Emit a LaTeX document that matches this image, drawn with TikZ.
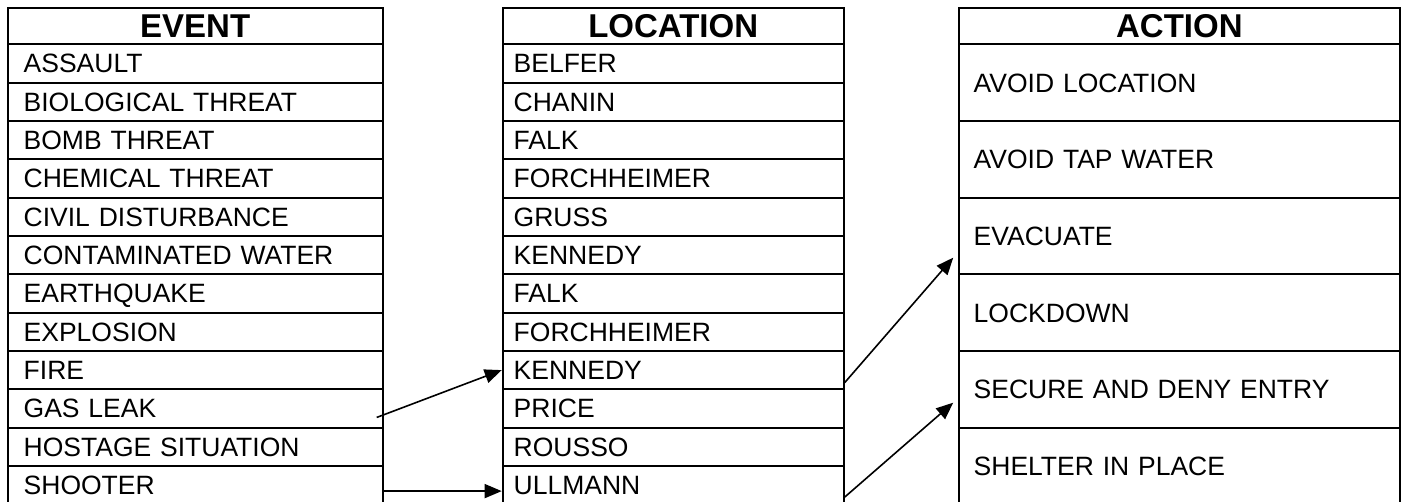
\documentclass[tikz,border=0pt]{standalone}
\usepackage{fontspec}
\setmainfont{Liberation Sans}
\usetikzlibrary{arrows.meta}
\tikzstyle{headCell}=[shape = rectangle, draw, line width = 2pt, anchor = north west, minimum height = 36.6pt, inner sep = 0pt, text height = 23.6pt, text depth = 0pt, font = \fontsize{33}{38}\selectfont\bfseries]
\tikzstyle{eventCell}=[shape = rectangle, draw, line width = 2pt, anchor = north west, text width = 343pt, minimum height = 38.33pt, inner xsep = 16pt, inner ysep = 0pt, text height = 19pt, text depth = 0pt, align = left, font = \fontsize{26.5}{31}\selectfont]
\tikzstyle{placeCell}=[eventCell, text width = 319pt, inner xsep = 11pt]
\tikzstyle{actionCell}=[eventCell, text width = 411.3pt, inner xsep = 15pt, minimum height = 76.67pt]
\tikzstyle{linkArrow}=[line width = 1.6pt, -{Triangle[length = 17pt, width = 14pt]}]

\begin{document}
\begin{tikzpicture}[x = 1pt, y = -1pt]
\useasboundingbox (0,0) rectangle (1404,501);
% column heads
\node[headCell, minimum width = 375pt] (eventHead) at (6.7, 6.7) {EVENT};
\node[headCell, minimum width = 341pt] (placeHead) at (501.7, 6.7) {LOCATION};
\node[headCell, minimum width = 441.3pt] (actionHead) at (957.7, 6.7) {ACTION};
% events
\node[eventCell] (ev1) at (6.7, 43.3) {ASSAULT};
\node[eventCell] (ev2) at (6.7, 81.63) {BIOLOGICAL THREAT};
\node[eventCell] (ev3) at (6.7, 119.96) {BOMB THREAT};
\node[eventCell] (ev4) at (6.7, 158.29) {CHEMICAL THREAT};
\node[eventCell] (ev5) at (6.7, 196.62) {CIVIL DISTURBANCE};
\node[eventCell] (ev6) at (6.7, 234.95) {CONTAMINATED WATER};
\node[eventCell] (ev7) at (6.7, 273.28) {EARTHQUAKE};
\node[eventCell] (ev8) at (6.7, 311.61) {EXPLOSION};
\node[eventCell] (ev9) at (6.7, 349.94) {FIRE};
\node[eventCell] (ev10) at (6.7, 388.27) {GAS LEAK};
\node[eventCell] (ev11) at (6.7, 426.6) {HOSTAGE SITUATION};
\node[eventCell] (ev12) at (6.7, 464.93) {SHOOTER};
% locations
\node[placeCell] (loc1) at (501.7, 43.3) {BELFER};
\node[placeCell] (loc2) at (501.7, 81.63) {CHANIN};
\node[placeCell] (loc3) at (501.7, 119.96) {FALK};
\node[placeCell] (loc4) at (501.7, 158.29) {FORCHHEIMER};
\node[placeCell] (loc5) at (501.7, 196.62) {GRUSS};
\node[placeCell] (loc6) at (501.7, 234.95) {KENNEDY};
\node[placeCell] (loc7) at (501.7, 273.28) {FALK};
\node[placeCell] (loc8) at (501.7, 311.61) {FORCHHEIMER};
\node[placeCell] (loc9) at (501.7, 349.94) {KENNEDY};
\node[placeCell] (loc10) at (501.7, 388.27) {PRICE};
\node[placeCell] (loc11) at (501.7, 426.6) {ROUSSO};
\node[placeCell] (loc12) at (501.7, 464.93) {ULLMANN};
% actions
\node[actionCell] (act1) at (957.7, 43.3) {AVOID LOCATION};
\node[actionCell] (act2) at (957.7, 119.96) {AVOID TAP WATER};
\node[actionCell] (act3) at (957.7, 196.62) {EVACUATE};
\node[actionCell] (act4) at (957.7, 273.28) {LOCKDOWN};
\node[actionCell] (act5) at (957.7, 349.94) {SECURE AND DENY ENTRY};
\node[actionCell] (act6) at (957.7, 426.6) {SHELTER IN PLACE};
% links
\draw[linkArrow] ([xshift = -7pt, yshift = -9pt]ev10.east) -- (loc9.west);
\draw[linkArrow] ([yshift = -6pt]ev12.east) -- ([yshift = -6pt]loc12.west);
\draw[linkArrow] ([yshift = -12.5pt]loc9.east) -- ([xshift = -4.5pt, yshift = -21.7pt]act3.west);
\draw[linkArrow] ([yshift = -12pt]loc12.east) -- ([xshift = -4.5pt, yshift = -13.4pt]act5.west);
\end{tikzpicture}
\end{document}
